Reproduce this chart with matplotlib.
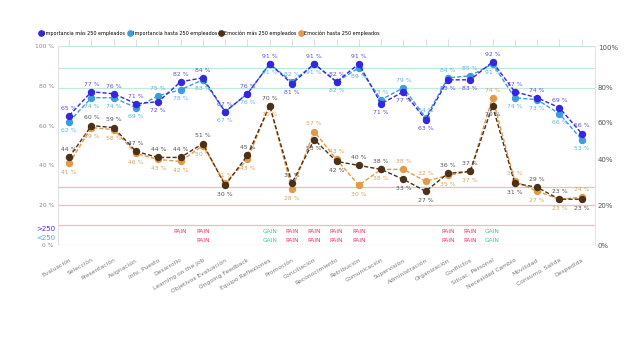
import matplotlib
matplotlib.use("Agg")
import matplotlib.pyplot as plt
from matplotlib.lines import Line2D
import numpy as np

categories = ["Evaluación", "Selección", "Presentación", "Asignación", "Info. Puesto",
              "Desarrollo", "Learning on the job", "Objetivos Evaluación", "Ongoing Feedback",
              "Equipo Reflexiones", "Promoción", "Conciliación", "Reconocimiento", "Retribución",
              "Comunicación", "Supervisión", "Administración", "Organización", "Conflictos",
              "Situac. Personal", "Necesidad Cambio", "Movilidad", "Consumo. Salida", "Despedida"]

imp_mas = [65, 77, 76, 71, 72, 82, 84, 67, 76, 91, 81, 91, 82, 91, 71, 77, 63, 83, 83, 92, 77, 74, 69, 56]
imp_hasta = [62, 74, 74, 69, 75, 78, 83, 67, 76, 91, 82, 91, 82, 89, 73, 79, 64, 84, 85, 91, 74, 73, 66, 53]
emo_mas = [44, 60, 59, 47, 44, 44, 51, 30, 45, 70, 31, 53, 42, 40, 38, 33, 27, 36, 37, 70, 31, 29, 23, 23]
emo_hasta = [41, 59, 58, 46, 43, 42, 50, 31, 43, 70, 28, 57, 43, 30, 38, 38, 32, 35, 37, 74, 32, 27, 23, 24]

tag_mas = ["", "", "", "", "", "PAIN", "PAIN", "", "", "GAIN", "PAIN", "PAIN", "PAIN", "PAIN",
           "", "", "", "PAIN", "PAIN", "GAIN", "", "", "", ""]
tag_hasta = ["", "", "", "", "", "", "PAIN", "", "", "GAIN", "PAIN", "PAIN", "PAIN", "PAIN",
             "", "", "", "PAIN", "PAIN", "GAIN", "", "", "", ""]

series_names = ["Importancia más 250 empleados", "Importancia hasta 250 empleados",
                "Emoción más 250 empleados", "Emoción hasta 250 empleados"]
green_lines = [100, 89, 79]
pink_lines = [29, 20, 10, 0]
right_ticks = [99, 79, 61.5, 43, 20, 0]
right_labels = ["100%", "80%", "60%", "40%", "20%", "0%"]

c_imp_mas = "#3526e0"
c_imp_hasta = "#3d9be0"
c_emo_mas = "#4b3119"
c_emo_hasta = "#e39a48"
lab_imp_mas = "#5f52d8"
lab_imp_hasta = "#5db3ea"
lab_emo_mas = "#555555"
lab_emo_hasta = "#d8a262"

fig = plt.figure(figsize=(6.4, 3.59), dpi=100)
ax = fig.add_axes([58/640, 1-245/359, (595-58)/640, (245-46)/359])
x = np.arange(len(categories))

for y in green_lines:
    ax.axhline(y, color="#bfeadd", lw=0.9, zorder=1)
for y in pink_lines:
    ax.axhline(y, color="#f6b9c4", lw=0.9, zorder=1)

dash = (0, (3, 1.5))
ax.plot(x, imp_hasta, color=c_imp_hasta, lw=1, ls=dash, marker="o", ms=4.3, zorder=3)
ax.plot(x, imp_mas, color=c_imp_mas, lw=1, ls=dash, marker="o", ms=4.3, zorder=4)
ax.plot(x, emo_hasta, color=c_emo_hasta, lw=1, ls=dash, marker="o", ms=4.3, zorder=3)
ax.plot(x, emo_mas, color=c_emo_mas, lw=1, ls=dash, marker="o", ms=4.3, zorder=4)

def pair_labels(a, b, ca, cb):
    for i in range(len(a)):
        if a[i] >= b[i]:
            oa, ob = 5.5, -6.5
        else:
            oa, ob = -6.5, 5.5
        ax.annotate(f"{a[i]} %", (x[i], a[i]), xytext=(0, oa), textcoords="offset points",
                    ha="center", va="center", fontsize=4.4, color=ca, zorder=5)
        ax.annotate(f"{b[i]} %", (x[i], b[i]), xytext=(0, ob), textcoords="offset points",
                    ha="center", va="center", fontsize=4.4, color=cb, zorder=5)

pair_labels(imp_mas, imp_hasta, lab_imp_mas, lab_imp_hasta)
pair_labels(emo_mas, emo_hasta, lab_emo_mas, lab_emo_hasta)

for i in range(len(categories)):
    for tags, yy in ((tag_mas, 7), (tag_hasta, 2.5)):
        t = tags[i]
        if t:
            ax.text(x[i], yy, t, ha="center", va="center", fontsize=4.2,
                    color="#e8336b" if t == "PAIN" else "#3cc98f")

ax.text(-0.6, 8, ">250", ha="right", va="center", fontsize=5, color="#3b2fe0", clip_on=False)
ax.text(-0.6, 3.5, "<250", ha="right", va="center", fontsize=5, color="#4aa8e6", clip_on=False)

ax.set_xlim(-0.5, 23.6)
ax.set_ylim(0, 100)
ax.set_yticks([0, 20, 40, 60, 80, 100])
ax.set_yticklabels(["0 %", "20 %", "40 %", "60 %", "80 %", "100 %"])
ax.tick_params(axis="y", length=0, labelsize=4.3, labelcolor="#888888", pad=3)
ax.set_xticks(x)
ax.set_xticklabels(categories, rotation=30, ha="right", rotation_mode="anchor",
                   fontsize=4.3, color="#7a7a7a")
ax.tick_params(axis="x", bottom=False, top=True, length=5, color="#d8d8d8", width=0.6, pad=4)
for s in ["top", "bottom"]:
    ax.spines[s].set_visible(False)
ax.spines["left"].set_color("#dddddd")
ax.spines["right"].set_color("#dddddd")
ax.spines["left"].set_linewidth(0.6)
ax.spines["right"].set_linewidth(0.6)

ax2 = ax.twinx()
ax2.set_ylim(0, 100)
ax2.set_yticks(right_ticks)
ax2.set_yticklabels(right_labels)
ax2.tick_params(axis="y", length=0, labelsize=5, labelcolor="#555555", pad=2)
for s in ["top", "bottom", "left", "right"]:
    ax2.spines[s].set_visible(False)

handles = [Line2D([], [], ls="", marker="o", ms=3.8, color=c) for c in
           (c_imp_mas, c_imp_hasta, c_emo_mas, c_emo_hasta)]
fig.legend(handles, series_names, loc="center left", bbox_to_anchor=(40/640, 1-33/359),
           ncol=4, frameon=False, fontsize=3.5, handletextpad=0.3, columnspacing=0.6,
           handlelength=0.6, borderpad=0, borderaxespad=0)

fig.savefig("out.png", dpi=100)
